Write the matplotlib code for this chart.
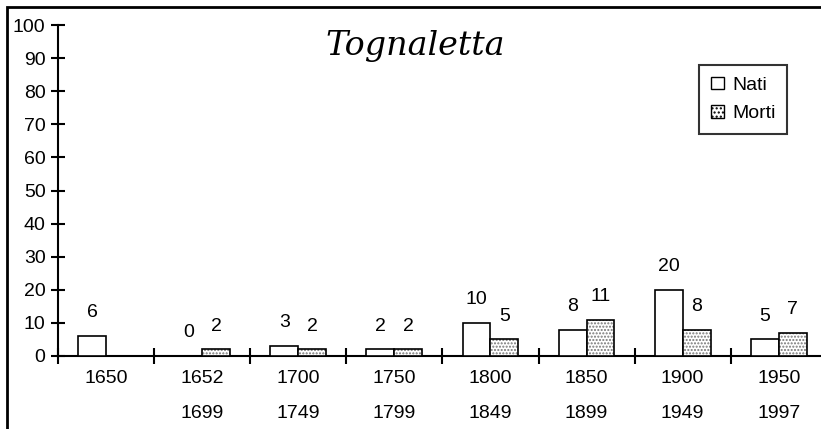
import matplotlib
matplotlib.use("Agg")
import matplotlib.pyplot as plt
from matplotlib.patches import Rectangle, Patch
import numpy as np

categories_top = ["1650", "1652", "1700", "1750", "1800", "1850", "1900", "1950"]
categories_bottom = ["", "1699", "1749", "1799", "1849", "1899", "1949", "1997"]
nati = [6, 0, 3, 2, 10, 8, 20, 5]
morti = [None, 2, 2, 2, 5, 11, 8, 7]
title = "Tognaletta"

plt.rcParams['font.family'] = ['Liberation Sans', 'DejaVu Sans']

W, H = 821, 429
fig = plt.figure(figsize=(W / 100, H / 100), dpi=100)

# figure border
fig.patches.append(Rectangle((7 / W, -0.1), 1.2, 1 - 7 / H + 0.1, transform=fig.transFigure,
                             fill=False, edgecolor='black', linewidth=2))

spacing = 96.1
left_px, zero_px, top_px = 58, 356, 25
ax = fig.add_axes([left_px / W, (H - zero_px) / H, 8 * spacing / W, (zero_px - top_px) / H])
ax.set_xlim(0, 8)
ax.set_ylim(0, 100)

FS = 14
n = len(categories_top)
centers = np.arange(n) + 0.5
bw = 0.29
for i in range(n):
    xn = centers[i] - bw / 2
    if nati[i] is not None:
        ax.bar(xn, nati[i], width=bw, color='white', edgecolor='black', linewidth=1.2, zorder=3)
        ax.text(xn, nati[i] + 7, str(nati[i]), ha='center', va='center', fontsize=FS)
    xm = centers[i] + bw / 2
    if morti[i] is not None:
        ax.bar(xm, morti[i], width=bw, color='white', edgecolor='#777777', hatch='.....',
               linewidth=0, zorder=3)
        ax.bar(xm, morti[i], width=bw, fill=False, edgecolor='black', linewidth=1.2, zorder=4)
        ax.text(xm, morti[i] + 7, str(morti[i]), ha='center', va='center', fontsize=FS)

for s in ['top', 'right']:
    ax.spines[s].set_visible(False)
for s in ['left', 'bottom']:
    ax.spines[s].set_linewidth(1.5)

ax.set_yticks(range(0, 101, 10))
ax.tick_params(axis='y', direction='inout', length=10, width=1.5, labelsize=FS, pad=4)
ax.set_xticks(np.arange(0, 9))
ax.set_xticklabels([])
ax.tick_params(axis='x', which='major', direction='inout', length=12, width=1.5)
ax.set_xticks(centers, minor=True)
ax.set_xticklabels([f"{a}\n{b}" for a, b in zip(categories_top, categories_bottom)], minor=True,
                   fontsize=FS, linespacing=2.4)
ax.tick_params(axis='x', which='minor', length=0, pad=10)

fig.text(415 / W, 1 - 46 / H, title, ha='center', va='center', fontsize=24,
         family='DejaVu Serif', style='italic')

handles = [Patch(facecolor='white', edgecolor='black', label='Nati'),
           Patch(facecolor='white', edgecolor='black', hatch='....', label='Morti')]
leg = fig.legend(handles=handles, loc='upper left', bbox_to_anchor=(699 / W, 1 - 65 / H),
                 fontsize=FS, frameon=True, fancybox=False, edgecolor='black',
                 handlelength=0.7, handleheight=0.6, handletextpad=0.4, borderpad=0.6,
                 labelspacing=0.6, borderaxespad=0)
leg.get_frame().set_linewidth(1.5)

fig.savefig("out.png", dpi=100)
